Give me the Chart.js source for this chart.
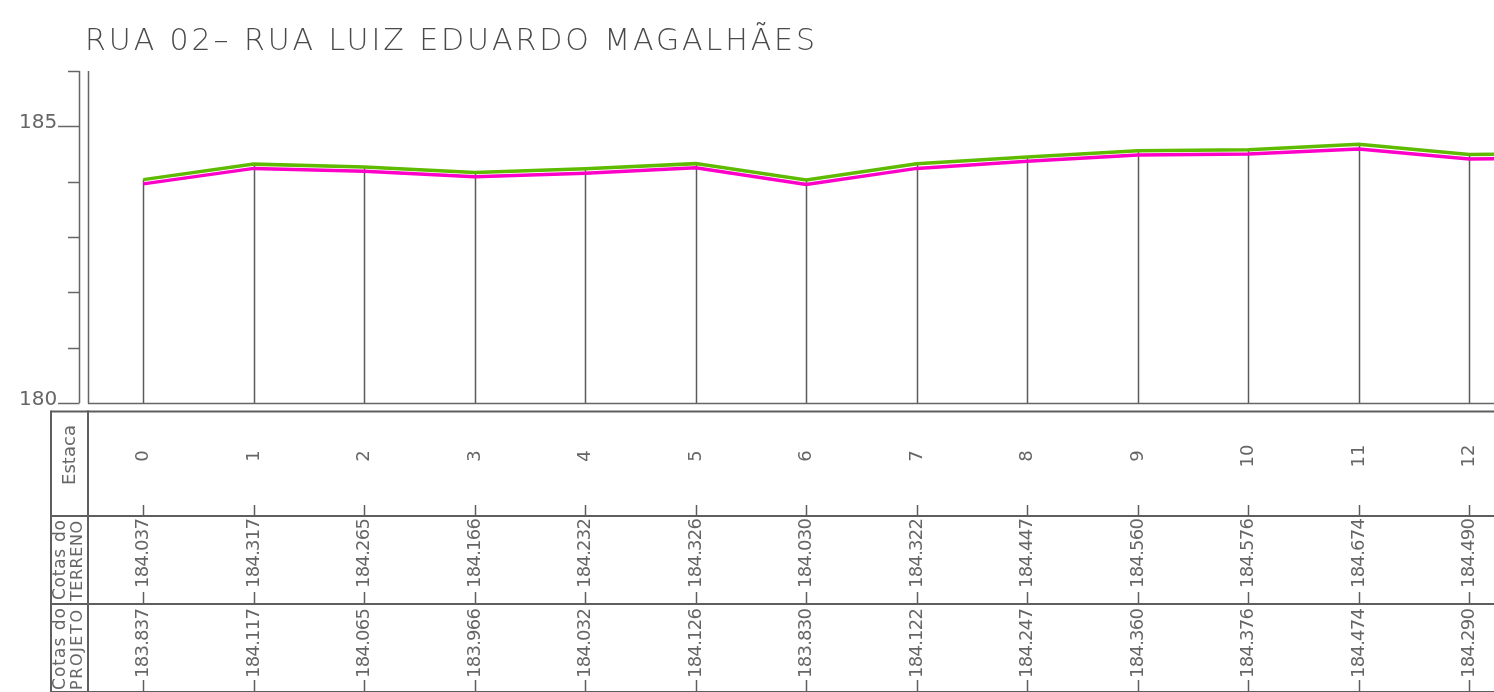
<!DOCTYPE html>
<html>
<head>
<meta charset="utf-8">
<script src="https://cdn.jsdelivr.net/npm/chart.js@4.4.0/dist/chart.umd.min.js"></script>
<style>
html, body { margin: 0; padding: 0; background: #fff; overflow: hidden; }
#wrap { width: 1494px; height: 692px; }
</style>
</head>
<body>
<div id="wrap"><canvas id="perfil" width="1494" height="692"></canvas></div>
<script>
const titulo = 'RUA 02– RUA LUIZ EDUARDO MAGALHÃES';

// tabela (estacas e cotas escritas no desenho)
const estacas = [0, 1, 2, 3, 4, 5, 6, 7, 8, 9, 10, 11, 12];
const cotasTerreno = [184.037, 184.317, 184.265, 184.166, 184.232, 184.326, 184.030, 184.322, 184.447, 184.560, 184.576, 184.674, 184.490];
const cotasProjeto = [183.837, 184.117, 184.065, 183.966, 184.032, 184.126, 183.830, 184.122, 184.247, 184.360, 184.376, 184.474, 184.290];

// linhas do perfil como aparecem no desenho (continuam depois da estaca 12, cortadas na borda)
const estacasPerfil = [0, 1, 2, 3, 4, 5, 6, 7, 8, 9, 10, 11, 12, 13];
const linhaTerreno = [184.037, 184.317, 184.265, 184.166, 184.232, 184.326, 184.030, 184.322, 184.447, 184.560, 184.576, 184.674, 184.490, 184.51];
const linhaProjeto = [183.96, 184.24, 184.19, 184.09, 184.15, 184.25, 183.95, 184.24, 184.37, 184.48, 184.50, 184.59, 184.41, 184.43];

// escala vertical
const yTicks = [180, 181, 182, 183, 184, 185, 186];
const yLabels = [180, 185];

const CINZA = '#666666';
const FONTE = "'DejaVu Sans', sans-serif";

// escreve texto ajustando o espaçamento para caber na largura do desenho
function escreve(ctx, s, x, y, size, larg, rot, peso, cor) {
    ctx.save();
    ctx.font = (peso || 400) + ' ' + size + 'px ' + FONTE;
    ctx.fillStyle = cor || CINZA;
    ctx.textBaseline = rot ? 'middle' : 'alphabetic';
    ctx.textAlign = 'left';
    ctx.letterSpacing = '0px';
    let w = ctx.measureText(s).width;
    if (larg && s.length > 1) {
        ctx.letterSpacing = ((larg - w) / (s.length - 1)) + 'px';
        w = larg;
    }
    ctx.translate(x, y);
    if (rot) {
        ctx.rotate(-Math.PI / 2);
        ctx.fillText(s, -w / 2, 0); // centrado em (x, y)
    } else {
        ctx.fillText(s, 0, 0);
    }
    ctx.restore();
}

function linha(ctx, x1, y1, x2, y2, lw) {
    ctx.beginPath();
    ctx.lineWidth = lw || 1.5;
    ctx.moveTo(x1, y1);
    ctx.lineTo(x2, y2);
    ctx.stroke();
}

const perfilPlugin = {
    id: 'perfilDesenho',
    beforeDatasetsDraw(chart) {
        const ctx = chart.ctx;
        const xs = chart.scales.x, ys = chart.scales.y;
        ctx.save();
        ctx.strokeStyle = '#5a5a5a';
        estacas.forEach((e, i) => {
            const px = Math.round(xs.getPixelForValue(e)) + 0.5;
            linha(ctx, px, ys.getPixelForValue(linhaTerreno[i]), px, ys.getPixelForValue(180), 1.5);
        });
        ctx.restore();
    },
    afterDraw(chart) {
        const ctx = chart.ctx;
        const xs = chart.scales.x, ys = chart.scales.y;
        const area = chart.chartArea;
        const W = chart.width;
        ctx.save();
        ctx.strokeStyle = CINZA;

        // título
        escreve(ctx, titulo, 85, 50, 30, 730, false, 200, '#4a4a4a');

        // eixo vertical da esquerda
        const yTop = ys.getPixelForValue(186), yBot = ys.getPixelForValue(180);
        linha(ctx, 79.5, yTop, 79.5, yBot);
        yTicks.forEach(v => {
            const py = Math.round(ys.getPixelForValue(v)) + 0.5;
            if (yLabels.includes(v)) {
                linha(ctx, 58, py, 79.5, py);
                escreve(ctx, String(v), 19, py + 1, 20, 0, false, 400);
            } else {
                linha(ctx, 68, py, 79.5, py);
            }
        });

        // moldura do perfil
        linha(ctx, area.left + 0.5, area.top, area.left + 0.5, area.bottom + 0.75);
        linha(ctx, area.left, area.bottom + 0.5, W, area.bottom + 0.5);

        // tabela
        const tTop = 411.5, r1 = 516, r2 = 604, r3 = 692;
        ctx.strokeStyle = '#5e5e5e';
        linha(ctx, 51, tTop, W, tTop, 2);
        linha(ctx, 51, r1, W, r1, 2);
        linha(ctx, 51, r2, W, r2, 2);
        linha(ctx, 51, r3, W, r3, 2);
        linha(ctx, 51, tTop - 1, 51, 692, 2);
        linha(ctx, 88, tTop - 1, 88, 692, 2);

        escreve(ctx, 'Estaca', 70, 455, 18, 60, true);
        escreve(ctx, 'Cotas do', 61, 560, 17, 80, true);
        escreve(ctx, 'TERRENO', 78, 561, 16, 80, true);
        escreve(ctx, 'Cotas do', 61, 649, 17, 82, true);
        escreve(ctx, 'PROJETO', 78, 650, 16, 80, true);

        estacas.forEach((e, i) => {
            const px = Math.round(xs.getPixelForValue(e)) + 0.5;
            // marcas
            linha(ctx, px, r1 - 11, px, r1, 1.5);
            linha(ctx, px, r2 - 12, px, r2, 1.5);
            linha(ctx, px, r3 - 12, px, r3, 1.5);
            escreve(ctx, String(e), px, 456, 18, 0, true);
            escreve(ctx, cotasTerreno[i].toFixed(3), px, r2 - 16 - 35, 18, 70, true);
            escreve(ctx, cotasProjeto[i].toFixed(3), px, r3 - 14 - 35, 18, 70, true);
        });
        ctx.restore();
    }
};

new Chart(document.getElementById('perfil').getContext('2d'), {
    type: 'line',
    data: {
        datasets: [
            {
                label: 'Terreno',
                data: estacasPerfil.map((e, i) => ({ x: e, y: linhaTerreno[i] })),
                borderColor: '#5fbb00',
                borderWidth: 3.5,
                pointRadius: 0,
                tension: 0
            },
            {
                label: 'Projeto',
                data: estacasPerfil.map((e, i) => ({ x: e, y: linhaProjeto[i] })),
                borderColor: '#ff00c8',
                borderWidth: 3.5,
                pointRadius: 0,
                tension: 0
            }
        ]
    },
    options: {
        responsive: false,
        animation: false,
        layout: { padding: { left: 88, top: 71, right: 0, bottom: 289 } },
        scales: {
            x: { type: 'linear', min: -0.5, max: 12.224, display: false },
            y: { min: 180, max: 186, display: false }
        },
        plugins: { legend: { display: false }, tooltip: { enabled: false } }
    },
    plugins: [perfilPlugin]
});
</script>
</body>
</html>
